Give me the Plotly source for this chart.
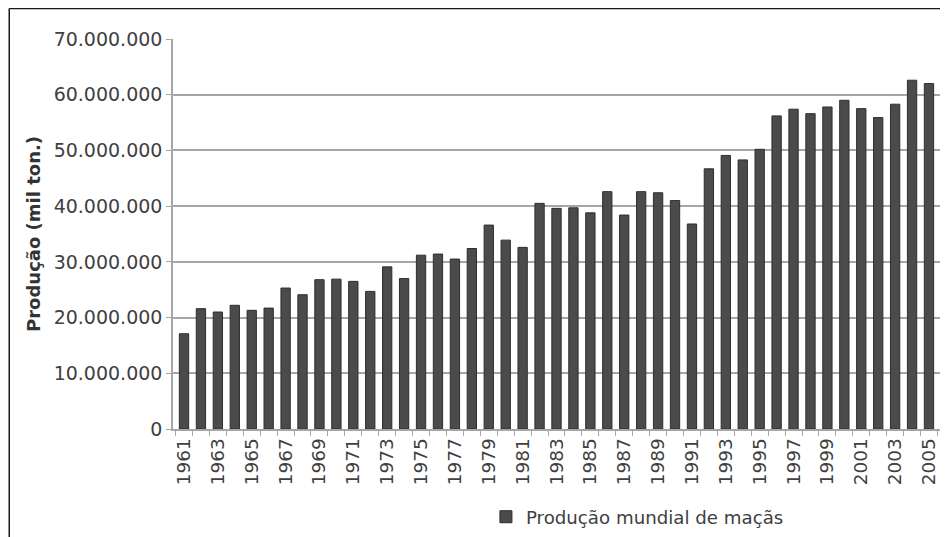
import plotly.graph_objects as go

years = list(range(1961, 2006))
producao = [
    17100000, 21600000, 21000000, 22200000, 21300000, 21700000, 25300000, 24100000, 26800000, 26900000,
    26500000, 24700000, 29100000, 27000000, 31200000, 31400000, 30500000, 32400000, 36600000, 33900000,
    32600000, 40500000, 39600000, 39700000, 38800000, 42600000, 38400000, 42600000, 42400000, 41000000,
    36800000, 46700000, 49100000, 48300000, 50200000, 56200000, 57400000, 56600000, 57800000, 59000000,
    57500000, 55900000, 58300000, 62600000, 62000000,
]
tick_years = [y for y in years if y % 2 == 1]
tick_labels = [str(y) for y in tick_years]
y_ticks = [0, 10000000, 20000000, 30000000, 40000000, 50000000, 60000000, 70000000]

FONT = "DejaVu Sans"
TXT = "#404040"

fig = go.Figure()
fig.add_trace(go.Bar(
    x=years, y=producao, name="Produção mundial de maçãs",
    marker=dict(color="#4b4b4b", line=dict(color="#2e2e2e", width=1)),
    width=0.55,
))

fig.update_layout(
    width=940, height=529,
    margin=dict(l=165, r=8, t=31, b=108),
    paper_bgcolor="white", plot_bgcolor="white",
    separators=",.",
    font=dict(family=FONT, color=TXT, size=18),
    showlegend=True,
    legend=dict(orientation="h", x=0.408, xref="paper", y=0.038, yref="container",
                xanchor="left", yanchor="middle",
                font=dict(size=18.2, color=TXT), bgcolor="rgba(0,0,0,0)"),
    xaxis=dict(
        range=[1960.35, 2005.65],
        tickmode="array", tickvals=tick_years, ticktext=tick_labels,
        tickangle=-90, ticks="", showgrid=False,
        showline=True, linecolor="#a6a6a6", linewidth=1.5,
        tickfont=dict(size=18.5, color=TXT),
        minor=dict(tick0=1960.5, dtick=1, ticks="outside", ticklen=5, tickcolor="#a6a6a6", showgrid=False),
        zeroline=False,
    ),
    yaxis=dict(
        range=[0, 70000000],
        tickmode="array", tickvals=y_ticks, tickformat=",d",
        ticks="outside", ticklen=5, tickcolor="#a6a6a6",
        showline=True, linecolor="#a6a6a6", linewidth=1.5,
        showgrid=True, gridcolor="#a6a6a6", gridwidth=1.5,
        zeroline=False,
        tickfont=dict(size=19, color=TXT),
        title=dict(text="<b>Produção (mil ton.)</b>", font=dict(size=18, color="#333333"), standoff=8),
    ),
    shapes=[
        dict(type="line", xref="paper", yref="paper", x0=-0.2135, x1=1.02, y0=1.0785, y1=1.0785,
             line=dict(color="#1a1a1a", width=1.5)),
        dict(type="line", xref="paper", yref="paper", x0=-0.2135, x1=-0.2135, y0=1.0785, y1=-0.3,
             line=dict(color="#1a1a1a", width=1.5)),
    ],
)

fig.write_html("out.html")
